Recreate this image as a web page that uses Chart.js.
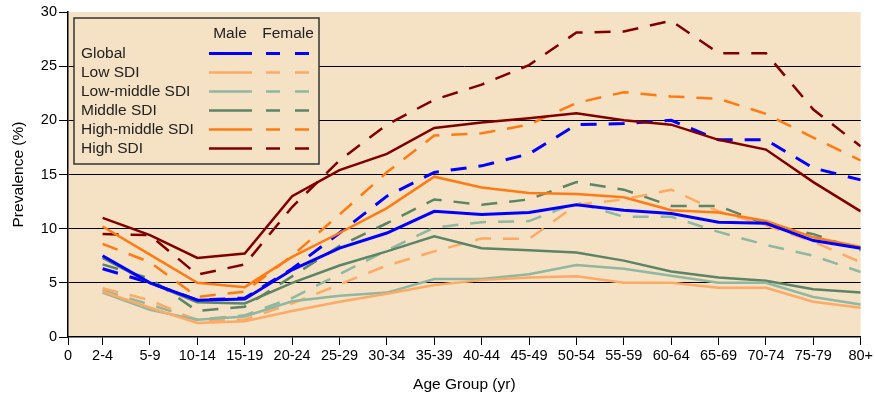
<!DOCTYPE html>
<html>
<head>
<meta charset="utf-8">
<script src="https://cdn.jsdelivr.net/npm/chart.js@4.4.1/dist/chart.umd.min.js"></script>
<style>
  html, body { margin: 0; padding: 0; background: #fff; }
</style>
</head>
<body>
<canvas id="myChart" width="875" height="398"></canvas>
<script>
var ageGroups = ['2-4','5-9','10-14','15-19','20-24','25-29','30-34','35-39','40-44','45-49','50-54','55-59','60-64','65-69','70-74','75-79','80+'];
var yTicks = [0, 5, 10, 15, 20, 25, 30];

var globalMale   = [7.5, 5.0, 3.4, 3.5, 6.2, 8.2, 9.6, 11.6, 11.3, 11.5, 12.2, 11.7, 11.4, 10.6, 10.5, 8.9, 8.2];
var globalFemale = [6.3, 5.0, 3.4, 3.6, 6.3, 9.6, 13.0, 15.2, 15.8, 16.9, 19.6, 19.7, 20.0, 18.2, 18.2, 15.6, 14.5];
var lowMale      = [4.2, 2.7, 1.3, 1.45, 2.4, 3.25, 4.0, 4.8, 5.25, 5.5, 5.6, 5.0, 5.0, 4.55, 4.55, 3.25, 2.7];
var lowFemale    = [4.5, 3.4, 1.5, 1.6, 3.1, 4.85, 6.6, 7.9, 9.1, 9.05, 12.2, 12.7, 13.6, 11.6, 10.3, 8.8, 6.9];
var lowMidMale   = [4.1, 2.5, 1.6, 1.9, 3.3, 3.8, 4.1, 5.35, 5.35, 5.8, 6.65, 6.3, 5.65, 5.0, 5.0, 3.7, 3.0];
var lowMidFemale = [4.3, 3.0, 1.6, 2.0, 3.6, 5.8, 8.0, 10.1, 10.6, 10.7, 12.4, 11.1, 11.1, 9.7, 8.5, 7.5, 6.0];
var middleMale   = [7.3, 5.0, 3.2, 3.1, 5.0, 6.6, 7.9, 9.3, 8.2, 8.0, 7.8, 7.05, 6.05, 5.5, 5.2, 4.4, 4.1];
var middleFemale = [6.7, 5.4, 2.4, 2.8, 5.6, 8.4, 10.5, 12.7, 12.2, 12.7, 14.3, 13.6, 12.1, 12.1, 10.4, 9.5, 8.0];
var highMidMale   = [10.2, 7.6, 5.0, 4.6, 7.4, 9.6, 11.9, 14.8, 13.8, 13.3, 13.2, 12.9, 11.7, 11.5, 10.7, 9.2, 8.3];
var highMidFemale = [8.6, 6.9, 3.7, 4.2, 7.5, 11.3, 15.2, 18.6, 18.8, 19.6, 21.6, 22.6, 22.2, 22.0, 20.6, 18.4, 16.3];
var highMale     = [11.0, 9.4, 7.3, 7.7, 13.0, 15.4, 16.9, 19.3, 19.8, 20.2, 20.65, 20.0, 19.6, 18.2, 17.3, 14.3, 11.6];
var highFemale   = [9.5, 9.4, 5.75, 6.7, 12.0, 16.3, 19.6, 21.9, 23.3, 25.1, 28.1, 28.2, 29.2, 26.2, 26.2, 21.0, 17.6];

var groups = [
  { label: 'Global',          color: '#0000ff', width: 3,   male: globalMale,  female: globalFemale },
  { label: 'Low SDI',         color: '#fdaa66', width: 2.5, male: lowMale,     female: lowFemale },
  { label: 'Low-middle SDI',  color: '#8fb7a1', width: 2.5, male: lowMidMale,  female: lowMidFemale },
  { label: 'Middle SDI',      color: '#5b8566', width: 2.5, male: middleMale,  female: middleFemale },
  { label: 'High-middle SDI', color: '#ff7a12', width: 2.5, male: highMidMale, female: highMidFemale },
  { label: 'High SDI',        color: '#800000', width: 2.5, male: highMale,    female: highFemale }
];

var xStart = -0.73;
var font = "'Liberation Sans', Arial, sans-serif";
var dash = [16, 12];

function points(values) {
  return values.map(function (v, i) { return { x: i, y: v }; });
}

var datasets = [];
groups.forEach(function (g) {
  datasets.push({ label: g.label + ' male', data: points(g.male), borderColor: g.color,
    borderWidth: g.width, pointRadius: 0, tension: 0, fill: false });
});
groups.forEach(function (g) {
  datasets.push({ label: g.label + ' female', data: points(g.female), borderColor: g.color,
    borderWidth: g.width, borderDash: dash, pointRadius: 0, tension: 0, fill: false });
});

var plotBg = {
  id: 'plotBg',
  beforeDraw: function (chart) {
    var a = chart.chartArea, c = chart.ctx;
    c.save();
    c.fillStyle = '#f5e1c3';
    c.fillRect(a.left, a.top, a.right - a.left, a.bottom - a.top);
    c.restore();
  }
};

var sexLegend = {
  id: 'sexLegend',
  afterDatasetsDraw: function (chart) {
    var c = chart.ctx;
    var bx = 74, by = 18, bw = 245, bh = 146;
    c.save();
    c.fillStyle = '#f5e1c3';
    c.fillRect(bx, by, bw, bh);
    c.strokeStyle = '#333';
    c.lineWidth = 1.5;
    c.strokeRect(bx, by, bw, bh);
    c.fillStyle = '#222';
    c.font = '15.5px ' + font;
    c.textBaseline = 'middle';
    c.textAlign = 'center';
    c.fillText('Male', 230, 34);
    c.fillText('Female', 288, 34);
    c.textAlign = 'left';
    groups.forEach(function (g, i) {
      var y = 53.5 + i * 19;
      c.fillStyle = '#222';
      c.fillText(g.label, 81, y);
      c.strokeStyle = g.color;
      c.lineWidth = g.width;
      c.setLineDash([]);
      c.beginPath(); c.moveTo(209, y); c.lineTo(252, y); c.stroke();
      c.beginPath(); c.moveTo(266, y); c.lineTo(280, y); c.stroke();
      c.beginPath(); c.moveTo(295, y); c.lineTo(309, y); c.stroke();
    });
    c.restore();
  }
};

var ctx = document.getElementById('myChart');
var myChart = new Chart(ctx, {
  type: 'line',
  data: { datasets: datasets },
  plugins: [plotBg, sexLegend],
  options: {
    responsive: false,
    animation: false,
    layout: { padding: { top: 12, right: 14, left: 0, bottom: 0 } },
    plugins: { legend: { display: false }, tooltip: { enabled: false } },
    scales: {
      x: {
        type: 'linear',
        min: xStart,
        max: ageGroups.length - 1,
        afterBuildTicks: function (axis) {
          axis.ticks = [{ value: xStart }].concat(ageGroups.map(function (g, i) { return { value: i }; }));
        },
        afterFit: function (s) { s.height = 61; },
        ticks: {
          autoSkip: false, maxRotation: 0, padding: 2, color: '#000',
          font: { family: font, size: 14.5 },
          callback: function (value, index) { return index === 0 ? '0' : ageGroups[index - 1]; }
        },
        grid: { drawOnChartArea: false, tickLength: 8, tickColor: '#000' },
        border: { color: '#000', width: 1.5 },
        title: { display: true, text: 'Age Group (yr)', color: '#000',
          font: { family: font, size: 15.5 }, padding: { top: 5 } }
      },
      y: {
        min: 0,
        max: 30,
        afterBuildTicks: function (axis) {
          axis.ticks = yTicks.map(function (v) { return { value: v }; });
        },
        afterFit: function (s) { s.width = 68; },
        ticks: { padding: 2, color: '#000', font: { family: font, size: 14.5 } },
        grid: {
          color: function (c) { return (c.tick && (c.tick.value === 0 || c.tick.value === 30)) ? 'rgba(0,0,0,0)' : '#000'; },
          tickColor: '#000', tickLength: 9, lineWidth: 1
        },
        border: { color: '#000', width: 1.5 },
        title: { display: true, text: 'Prevalence (%)', color: '#000',
          font: { family: font, size: 15.5 }, padding: { top: 9.5, bottom: 0 } }
      }
    }
  }
});
</script>
</body>
</html>
